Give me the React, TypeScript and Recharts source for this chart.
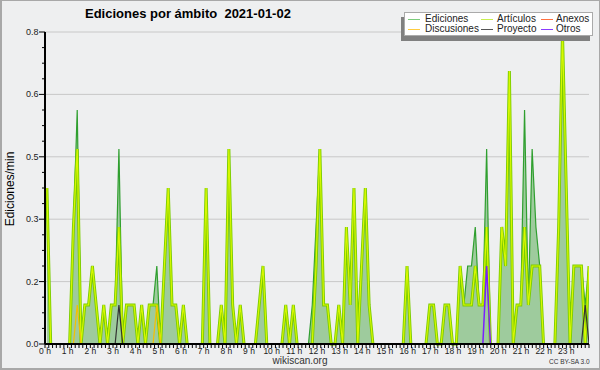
import { ComposedChart, Area, Line, XAxis, YAxis, CartesianGrid } from 'recharts';

// edits per minute, one value per 10-minute bin (144 bins = 24 h)
const ediciones = [
  0.4, 0, 0, 0, 0, 0,
  0, 0.3, 0.6, 0, 0.1, 0.1,
  0.2, 0.1, 0, 0.1, 0, 0.1,
  0.1, 0.5, 0, 0.1, 0.1, 0.1,
  0, 0.1, 0, 0.1, 0.1, 0.2,
  0, 0.2, 0.4, 0.1, 0.1, 0,
  0.1, 0, 0, 0, 0, 0,
  0.4, 0, 0, 0, 0.1, 0,
  0.5, 0.1, 0, 0.1, 0, 0,
  0, 0, 0.1, 0.2, 0, 0,
  0, 0, 0, 0.1, 0, 0.1,
  0, 0, 0, 0, 0.1, 0.3,
  0.5, 0.1, 0.1, 0, 0, 0.1,
  0, 0.3, 0.1, 0.4, 0, 0.2,
  0.4, 0.1, 0, 0, 0, 0,
  0, 0, 0, 0, 0, 0.2,
  0, 0, 0, 0, 0, 0.1,
  0.1, 0, 0, 0.1, 0.1, 0,
  0, 0.2, 0.1, 0.2, 0.2, 0.3,
  0.1, 0.1, 0.5, 0, 0, 0,
  0.3, 0.2, 0.7, 0, 0.1, 0.1,
  0.6, 0.1, 0.5, 0.3, 0.2, 0,
  0, 0, 0, 0.3, 0.8, 0.4,
  0, 0.2, 0.2, 0.2, 0.1, 0.2,
];

const articulos = [
  0.4, 0, 0, 0, 0, 0,
  0, 0.3, 0.5, 0, 0.1, 0.1,
  0.2, 0.1, 0, 0.1, 0, 0.1,
  0.1, 0.3, 0, 0.1, 0.1, 0.1,
  0, 0.1, 0, 0.1, 0.1, 0.1,
  0, 0.2, 0.4, 0.1, 0.1, 0,
  0.1, 0, 0, 0, 0, 0,
  0.4, 0, 0, 0, 0.1, 0,
  0.5, 0.1, 0, 0.1, 0, 0,
  0, 0, 0.1, 0.2, 0, 0,
  0, 0, 0, 0.1, 0, 0.1,
  0, 0, 0, 0, 0, 0.2,
  0.5, 0.1, 0.1, 0, 0, 0.1,
  0, 0.3, 0.1, 0.4, 0, 0.2,
  0.4, 0.1, 0, 0, 0, 0,
  0, 0, 0, 0, 0, 0.2,
  0, 0, 0, 0, 0, 0.1,
  0.1, 0, 0, 0.1, 0.1, 0,
  0, 0.2, 0.1, 0.1, 0.1, 0.2,
  0.1, 0.1, 0.3, 0, 0, 0,
  0.3, 0.2, 0.7, 0, 0.1, 0.1,
  0.3, 0.1, 0.2, 0.2, 0.2, 0,
  0, 0, 0, 0.3, 0.8, 0.4,
  0, 0.2, 0.2, 0.2, 0, 0.2,
];

// [bin, value] for the small series, every other bin is 0
const discusiones: [number, number][] = [[8, 0.1], [29, 0.1]];
const proyecto: [number, number][] = [[19, 0.1], [142, 0.1]];
const otros: [number, number][] = [[116, 0.2]];
const anexos: [number, number][] = [];

const hourLabels = Array.from({ length: 24 }, (_, h) => `${h} h`);
const yMajor = [0, 0.16, 0.32, 0.48, 0.64, 0.8];
const yTicks = Array.from({ length: 21 }, (_, k) => +(k * 0.04).toFixed(2));

const legendItems = [
  { name: 'Ediciones', color: '#7ccc7c' },
  { name: 'Artículos', color: '#c8ee50' },
  { name: 'Anexos', color: '#ff7040' },
  { name: 'Discusiones', color: '#ffcc40' },
  { name: 'Proyecto', color: '#555555' },
  { name: 'Otros', color: '#8a3cff' },
];

const BINS = ediciones.length;
const X_MIN = -0.5;
const X_MAX = BINS - 1;
const xTicks = Array.from({ length: BINS + 1 }, (_, k) => X_MIN + (k * (X_MAX - X_MIN)) / BINS);

const expand = (pts: [number, number][]) => {
  const a = new Array(BINS).fill(0);
  pts.forEach(([i, v]) => (a[i] = v));
  return a;
};
// drop zero runs so nothing is drawn along the base line
const trim = (a: number[]) =>
  a.map((v, i) => (v === 0 && !(a[i - 1] > 0) && !(a[i + 1] > 0) ? null : v));

const ed = trim(ediciones);
const ar = trim(articulos);
const di = trim(expand(discusiones));
const pr = trim(expand(proyecto));
const ot = trim(expand(otros));
const an = trim(expand(anexos));

const data = ediciones.map((_, i) => ({ i, ed: ed[i], ar: ar[i], di: di[i], pr: pr[i], ot: ot[i], an: an[i] }));

const FONT = '"Liberation Sans", Arial, sans-serif';

const YTick = (props: any) => {
  const { x, y, payload } = props;
  const major = yMajor.some((m) => Math.abs(m - payload.value) < 1e-6);
  return (
    <g>
      <line x1={x - (major ? 6 : 3)} x2={x} y1={y} y2={y} stroke="#000" strokeWidth={1} />
      {major && (
        <text x={x - 6.5} y={y} dy={3} textAnchor="end" fontSize={9} fontFamily={FONT} fill="#222">
          {payload.value.toFixed(1)}
        </text>
      )}
    </g>
  );
};

const XTick = (props: any) => {
  const { x, y, index } = props;
  const label = index % 6 === 0 ? hourLabels[index / 6] : null;
  return (
    <g>
      <line x1={x} x2={x} y1={y} y2={y + 4} stroke="#000" strokeWidth={1} />
      {label && (
        <text x={x} y={y + 9.5} textAnchor="middle" fontSize={8.5} fontFamily={FONT} fill="#222">
          {label}
        </text>
      )}
    </g>
  );
};

export default function App() {
  return (
    <div style={{ position: 'fixed', left: 0, top: 0, width: 600, height: 370, background: '#eeeff0', fontFamily: FONT, overflow: 'hidden' }}>
      <div style={{ position: 'absolute', left: 85, top: 6, fontSize: 13, lineHeight: '15px', fontWeight: 'bold', whiteSpace: 'pre', color: '#000' }}>
        {'Ediciones por ámbito  2021-01-02'}
      </div>

      <div style={{ position: 'absolute', left: -40, top: 182, width: 100, height: 14, lineHeight: '14px', fontSize: 12, textAlign: 'center', transform: 'rotate(-90deg)', color: '#000' }}>
        Ediciones/min
      </div>

      <ComposedChart width={600} height={370} data={data} margin={{ top: 32, right: 11, bottom: 10, left: 0 }} style={{ position: 'absolute', left: 0, top: 0 }}>
        <CartesianGrid vertical={false} horizontalValues={yMajor.slice(1)} stroke="#c8c8c8" />
        <XAxis
          type="number"
          dataKey="i"
          domain={[X_MIN, X_MAX]}
          ticks={xTicks}
          interval={0}
          height={16}
          tickSize={0}
          tickMargin={0}
          tick={<XTick />}
          axisLine={{ stroke: '#000', strokeWidth: 2 }}
          allowDataOverflow
        />
        <YAxis
          type="number"
          domain={[0, 0.8]}
          ticks={yTicks}
          interval={0}
          width={45}
          tickSize={0}
          tickMargin={0}
          tick={<YTick />}
          axisLine={{ stroke: '#000', strokeWidth: 2 }}
        />
        <Area dataKey="ed" type="linear" stroke="#2f9f2f" strokeWidth={1.2} fill="#9ecb9d" fillOpacity={1} dot={false} activeDot={false} isAnimationActive={false} />
        <Line dataKey="ar" type="linear" stroke="#7acc00" strokeWidth={3} dot={false} activeDot={false} isAnimationActive={false} />
        <Line dataKey="ar" type="linear" stroke="#d8f800" strokeWidth={1.2} dot={false} activeDot={false} isAnimationActive={false} />
        <Line dataKey="an" type="linear" stroke="#ff7040" strokeWidth={1.2} dot={false} activeDot={false} isAnimationActive={false} />
        <Line dataKey="di" type="linear" stroke="#f5c000" strokeWidth={1.2} dot={false} activeDot={false} isAnimationActive={false} />
        <Line dataKey="pr" type="linear" stroke="#333333" strokeWidth={1.2} dot={false} activeDot={false} isAnimationActive={false} />
        <Line dataKey="ot" type="linear" stroke="#7a1fff" strokeWidth={1.5} dot={false} activeDot={false} isAnimationActive={false} />
      </ComposedChart>

      <div style={{ position: 'absolute', left: 404, top: 12, width: 189, height: 24, background: '#fff', border: '1px solid #aaa', boxSizing: 'border-box', boxShadow: '-3px 5px 0 #808080', fontSize: 10 }}>
        {legendItems.map((it, k) => {
          const col = k % 3;
          const row = Math.floor(k / 3);
          const lineLeft = [3, 76, 136][col];
          const textLeft = [20, 92, 151][col];
          const cy = [6, 16][row];
          return (
            <div key={it.name}>
              <div style={{ position: 'absolute', left: lineLeft, top: cy, width: 12, height: 1, background: it.color }} />
              <div style={{ position: 'absolute', left: textLeft, top: cy - 6, lineHeight: '12px', color: '#222', whiteSpace: 'nowrap' }}>{it.name}</div>
            </div>
          );
        })}
      </div>

      <div style={{ position: 'absolute', left: 250, width: 100, top: 356, textAlign: 'center', fontSize: 10, lineHeight: '10px', color: '#333' }}>wikiscan.org</div>
      <div style={{ position: 'absolute', left: 549, top: 358, fontSize: 6.5, lineHeight: '8px', color: '#333', whiteSpace: 'nowrap' }}>CC BY-SA 3.0</div>

      <div style={{ position: 'absolute', inset: 0, border: '1px solid #a8a8a8', borderLeftWidth: 2, borderBottomWidth: 2, pointerEvents: 'none' }} />
    </div>
  );
}
